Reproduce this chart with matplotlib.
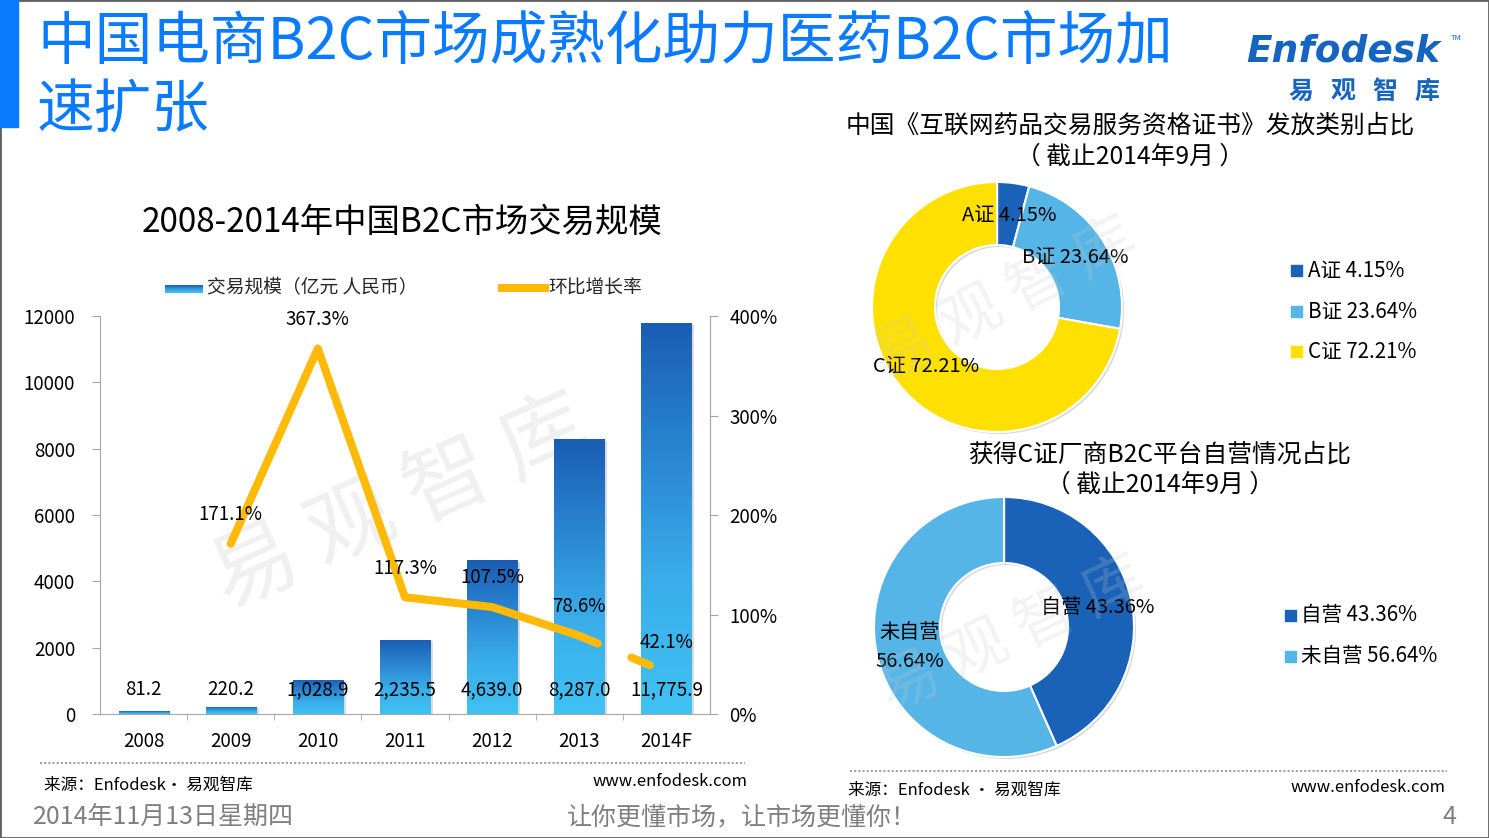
import numpy as np
import matplotlib.pyplot as plt
from matplotlib.patches import Rectangle
from matplotlib.lines import Line2D
from matplotlib.colors import LinearSegmentedColormap
import matplotlib.patheffects as pe

plt.rcParams['font.family'] = ['Noto Sans CJK SC', 'DejaVu Sans']

# data
years = ['2008', '2009', '2010', '2011', '2012', '2013', '2014F']
scale = [81.2, 220.2, 1028.9, 2235.5, 4639.0, 8287.0, 11775.9]
growth = [np.nan, 171.1, 367.3, 117.3, 107.5, 78.6, 42.1]

cert_names = ['A证', 'B证', 'C证']
cert_share = [4.15, 23.64, 72.21]

self_names = ['自营', '未自营']
self_share = [43.36, 56.64]

W, H = 1489, 838
BLUE = '#0A7BFF'
ORANGE = '#FFBA08'
DARK = '#1A62B8'
LIGHT = '#55B5E7'
YELLOW = '#FFE000'
GREY = '#7F7F7F'
AXIS = '#A6A6A6'
LOGO = '#1565C0'


def fx(px):
    return px / W


def fy(py):
    return 1 - py / H


fig = plt.figure(figsize=(W / 100, H / 100), dpi=100)

# frame + title
fig.patches.append(Rectangle((0, 0), 1, 1, transform=fig.transFigure,
                             fill=False, edgecolor='#606060', linewidth=2))
fig.patches.append(Rectangle((0, fy(127)), fx(18), 127 / H,
                             transform=fig.transFigure, color=BLUE))
fig.text(fx(37), fy(43), '中国电商B2C市场成熟化助力医药B2C市场加',
         fontsize=41.5, color=BLUE, va='center')
fig.text(fx(37), fy(111), '速扩张', fontsize=41.5, color=BLUE, va='center')

# logo
fig.text(fx(1246), fy(52), 'Enfodesk', fontsize=27, color=LOGO,
         style='italic', weight='bold', family='DejaVu Sans', va='center')
fig.text(fx(1451), fy(38), 'TM', fontsize=5.5, color=LOGO, va='center')
for k, ch in enumerate('易观智库'):
    fig.text(fx(1301 + k * 42), fy(92), ch, fontsize=18, color=LOGO,
             weight='bold', va='center', ha='center')

# ---------------- bar + line chart ----------------
ax = fig.add_axes([fx(100), fy(714), (710 - 100) / W, (714 - 316) / H])
ax.set_facecolor('none')
x = np.arange(len(years))

grad = LinearSegmentedColormap.from_list(
    'bar', ['#40C2F3', '#3AAEEA', '#2A86D2', '#1A5DB3'])
bars = ax.bar(x, scale, width=0.575, color='white', edgecolor='none', zorder=2)
for b in bars:
    b.set_path_effects([pe.SimplePatchShadow(offset=(2, -1), shadow_rgbFace='#888888', alpha=0.3),
                        pe.Normal()])
    x0, w, h = b.get_x(), b.get_width(), b.get_height()
    img = ax.imshow(np.linspace(0, 1, 256).reshape(-1, 1), cmap=grad,
                    extent=(x0, x0 + w, 0, h), origin='lower', aspect='auto', zorder=3)
    img.set_clip_path(b)

for i, v in enumerate(scale):
    ax.annotate(f'{v:,.1f}', (x[i], 0), xytext=(0, 17.3), textcoords='offset points',
                ha='center', va='center', fontsize=13.5, color='black', zorder=6)

ax.set_xlim(-0.5, 6.5)
ax.set_ylim(0, 12000)
ax.set_yticks(np.arange(0, 12001, 2000))
ax.set_xticks(x)
ax.set_xticklabels(years)
ax.set_xticks(np.arange(0.5, 6.5, 1), minor=True)
ax.tick_params(axis='x', which='major', length=0, pad=12, labelsize=13.5)
ax.tick_params(axis='x', which='minor', length=4, color=AXIS)
ax.tick_params(axis='y', length=6, color=AXIS, pad=12, labelsize=13.5)
ax.spines['top'].set_visible(False)
for s in ['left', 'right', 'bottom']:
    ax.spines[s].set_color(AXIS)

ax.text(2.95, 6300, '易 观 智 库', fontsize=62, color='#F0F0F0', rotation=24,
        ha='center', va='center', zorder=0)

ax2 = ax.twinx()
ax2.set_ylim(0, 400)
ax2.set_yticks(np.arange(0, 401, 100))
ax2.set_yticklabels([f'{v}%' for v in range(0, 401, 100)])
ax2.tick_params(axis='y', length=6, color=AXIS, pad=8, labelsize=13.5)
for s in ['top', 'left', 'bottom']:
    ax2.spines[s].set_visible(False)
ax2.spines['right'].set_color(AXIS)

lw = 5.8
ax2.plot(x[1:6], growth[1:6], color=ORANGE, lw=lw, solid_capstyle='round',
         solid_joinstyle='round', zorder=4)
ax2.plot(x[5:7], growth[5:7], color=ORANGE, lw=lw, linestyle=(0, (2.5, 4.5)),
         dash_capstyle='round', zorder=4)
for i in range(1, 7):
    ax2.annotate(f'{growth[i]:.1f}%', (x[i], growth[i]), xytext=(0, 21),
                 textcoords='offset points', ha='center', va='center',
                 fontsize=13.5, color='black', zorder=6)

fig.text(fx(402), fy(222), '2008-2014年中国B2C市场交易规模', fontsize=24,
         ha='center', va='center', color='black')

# legend of bar chart
lax = fig.add_axes([fx(165), fy(293), 38 / W, 8 / H])
lax.imshow(np.linspace(0, 1, 64).reshape(-1, 1), cmap=grad, origin='lower', aspect='auto')
lax.axis('off')
fig.text(fx(207), fy(288), '交易规模（亿元 人民币）', fontsize=13.5, va='center', color='#262626')
fig.add_artist(Line2D([fx(502), fx(545)], [fy(288), fy(288)], color=ORANGE, lw=lw,
                      transform=fig.transFigure))
fig.text(fx(548), fy(288), '环比增长率', fontsize=13.5, va='center', color='#262626')


# ---------------- donuts ----------------
def donut(cx, cy, r, rin, values, colors, texts):
    pad = 1.1
    axp = fig.add_axes([fx(cx - r * pad), fy(cy + r * pad), 2 * r * pad / W, 2 * r * pad / H])
    wedges, _ = axp.pie(values, colors=colors, startangle=90, counterclock=False,
                        wedgeprops=dict(width=1 - rin / r, edgecolor='white', linewidth=1.5))
    for wdg in wedges:
        wdg.set_path_effects([pe.SimplePatchShadow(offset=(1.5, -1.5), shadow_rgbFace='#999999', alpha=0.35),
                              pe.Normal()])
    axp.set_xlim(-pad, pad)
    axp.set_ylim(-pad, pad)
    total = sum(values)
    start = 90.0
    for v, t in zip(values, texts):
        mid = np.deg2rad(start - v / total * 180)
        axp.text(0.74 * np.cos(mid), 0.74 * np.sin(mid), t, ha='center', va='center',
                 fontsize=14.5, color='black', linespacing=1.55)
        start -= v / total * 360
    return axp


donut(997, 307, 125, 62, cert_share, [DARK, LIGHT, YELLOW],
      [f'{n} {v:.2f}%' for n, v in zip(cert_names, cert_share)])
donut(1004, 627, 130, 64, self_share, [DARK, LIGHT],
      [f'{self_names[0]} {self_share[0]:.2f}%', f'{self_names[1]}\n{self_share[1]:.2f}%'])

fig.text(fx(1130), fy(126), '中国《互联网药品交易服务资格证书》发放类别占比', fontsize=17.8,
         ha='center', va='center')
fig.text(fx(1130), fy(157), '（ 截止2014年9月 ）', fontsize=17.8, ha='center', va='center')
fig.text(fx(1160), fy(455), '获得C证厂商B2C平台自营情况占比', fontsize=17.8,
         ha='center', va='center')
fig.text(fx(1160), fy(485), '（ 截止2014年9月 ）', fontsize=17.8, ha='center', va='center')

for txt, xc, yc, rot in [('易 观 智 库', 1005, 300, 27), ('易 观 智 库', 1012, 635, 25)]:
    fig.text(fx(xc), fy(yc), txt, fontsize=44, color='#C8C8C8', alpha=0.22,
             rotation=rot, ha='center', va='center')

# legends of donuts
for i, (n, v) in enumerate(zip(cert_names, cert_share)):
    yc = 271 + i * 40.5
    fig.patches.append(Rectangle((fx(1291), fy(yc + 5.5)), 11 / W, 11 / H,
                                 transform=fig.transFigure, color=[DARK, LIGHT, YELLOW][i]))
    fig.text(fx(1308), fy(yc), f'{n} {v:.2f}%', fontsize=14.8, va='center')
for i, (n, v) in enumerate(zip(self_names, self_share)):
    yc = 615 + i * 41
    fig.patches.append(Rectangle((fx(1285), fy(yc + 5.5)), 11 / W, 11 / H,
                                 transform=fig.transFigure, color=[DARK, LIGHT][i]))
    fig.text(fx(1301), fy(yc), f'{n} {v:.2f}%', fontsize=14.8, va='center')

# footers
fig.add_artist(Line2D([fx(40), fx(745)], [fy(763), fy(763)], color='#A0A0A0', lw=1.5,
                      linestyle=(0, (1, 1)), transform=fig.transFigure))
fig.add_artist(Line2D([fx(850), fx(1447)], [fy(771), fy(771)], color='#A0A0A0', lw=1.5,
                      linestyle=(0, (1, 1)), transform=fig.transFigure))
fig.text(fx(44), fy(785), '来源：Enfodesk· 易观智库', fontsize=12, va='center')
fig.text(fx(748), fy(781), 'www.enfodesk.com', fontsize=12, va='center', ha='right')
fig.text(fx(848), fy(790), '来源：Enfodesk · 易观智库', fontsize=12, va='center')
fig.text(fx(1446), fy(787), 'www.enfodesk.com', fontsize=12, va='center', ha='right')

fig.text(fx(33), fy(817), '2014年11月13日星期四', fontsize=18, color=GREY, va='center')
fig.text(fx(742), fy(817), '让你更懂市场，让市场更懂你！', fontsize=18, color=GREY,
         va='center', ha='center')
fig.text(fx(1456), fy(817), '4', fontsize=18, color=GREY, va='center', ha='right')

fig.savefig('out.png', dpi=100)
